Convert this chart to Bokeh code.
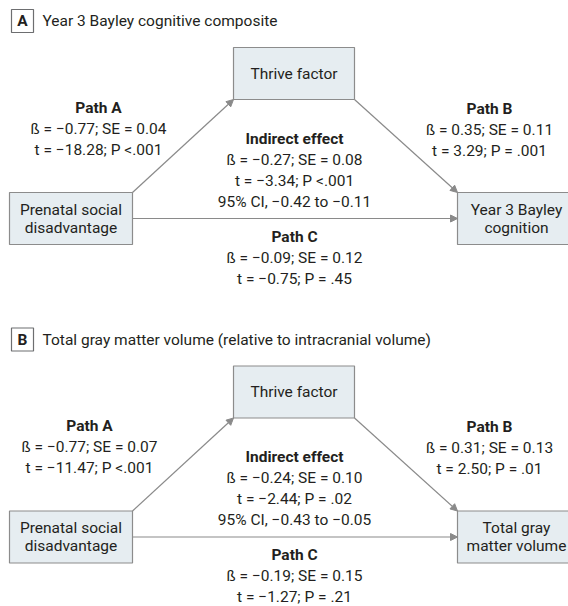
from bokeh.plotting import figure
from bokeh.models import Range1d, ColumnDataSource, Arrow, NormalHead
from bokeh.core.properties import value
from bokeh.embed import file_html
from bokeh.resources import INLINE

# ---------------- data ----------------
panel_letters = ["A", "B"]
panel_titles = ["Year 3 Bayley cognitive composite",
                "Total gray matter volume (relative to intracranial volume)"]
exposure_label = ["Prenatal social", "disadvantage"]
mediator_label = "Thrive factor"
outcome_labels = [["Year 3 Bayley", "cognition"], ["Total gray", "matter volume"]]

path_a_beta = [-0.77, -0.77]
path_a_se = [0.04, 0.07]
path_a_t = [-18.28, -11.47]
path_a_p = ["<.001", "<.001"]

path_b_beta = [0.35, 0.31]
path_b_se = [0.11, 0.13]
path_b_t = [3.29, 2.50]
path_b_p = [".001", ".01"]

indirect_beta = [-0.27, -0.24]
indirect_se = [0.08, 0.10]
indirect_t = [-3.34, -2.44]
indirect_p = ["<.001", ".02"]
indirect_ci_low = [-0.42, -0.43]
indirect_ci_high = [-0.11, -0.05]

path_c_beta = [-0.09, -0.19]
path_c_se = [0.12, 0.15]
path_c_t = [-0.75, -1.27]
path_c_p = [".45", ".21"]

# ---------------- helpers ----------------
def fnum(v):
    s = f"{abs(v):.2f}"
    return ("\u2212" if v < 0 else "") + s

def fp(pv):
    return f"P {pv}" if pv.startswith("<") else f"P = {pv}"

def beta_line(b, se):
    return f"ß = {fnum(b)}; SE = {fnum(se)}"

def t_line(t, pv):
    return f"t = {fnum(t)}; {fp(pv)}"

FONT = value("Roboto")
FS = "15.5px"
TXT = "#231f20"
LINE = "#8a8a8a"
BOX_FILL = "#e6edf1"
BOX_LINE = "#8c8c8c"

p = figure(width=568, height=606, x_range=Range1d(0, 568), y_range=Range1d(606, 0),
           output_backend="svg", toolbar_location=None, min_border=0)
p.axis.visible = False
p.grid.visible = False
p.outline_line_color = None
p.background_fill_color = "white"
p.border_fill_color = "white"

offsets = [0, 318.5]
path_a_x = [98, 89]

reg = dict(x=[], y=[], text=[])
bold = dict(x=[], y=[], text=[])
boxes = dict(left=[], right=[], top=[], bottom=[])
lbl = dict(left=[], right=[], top=[], bottom=[])
arrows = dict(x0=[], y0=[], x1=[], y1=[])

def add(d, x, y, t):
    d["x"].append(x); d["y"].append(y); d["text"].append(t)

for i in range(2):
    o = offsets[i]
    # panel label & title
    lbl["left"].append(11); lbl["right"].append(33)
    lbl["top"].append(9 + o); lbl["bottom"].append(32 + o)
    add(bold, 22, 20.5 + o, panel_letters[i])
    # boxes
    for (l, r, t, b) in [(233, 354, 47, 99), (9, 132, 192, 244), (457, 580, 192, 244)]:
        boxes["left"].append(l); boxes["right"].append(r)
        boxes["top"].append(t + o); boxes["bottom"].append(b + o)
    # arrows
    for (x0, y0, x1, y1) in [(132, 192, 233, 99), (354, 99, 457, 192), (132, 218, 457, 218)]:
        arrows["x0"].append(x0); arrows["y0"].append(y0 + o)
        arrows["x1"].append(x1); arrows["y1"].append(y1 + o)
    # box texts
    add(reg, 293.5, 73 + o, mediator_label)
    add(reg, 70.5, 209 + o, exposure_label[0])
    add(reg, 70.5, 227 + o, exposure_label[1])
    add(reg, 516, 209 + o, outcome_labels[i][0])
    add(reg, 516, 227 + o, outcome_labels[i][1])
    # Path A
    add(bold, path_a_x[i], 107 + o, "Path A")
    add(reg, path_a_x[i], 128 + o, beta_line(path_a_beta[i], path_a_se[i]))
    add(reg, path_a_x[i], 149 + o, t_line(path_a_t[i], path_a_p[i]))
    # Path B
    add(bold, 489, 108 + o, "Path B")
    add(reg, 489, 129 + o, beta_line(path_b_beta[i], path_b_se[i]))
    add(reg, 489, 150 + o, t_line(path_b_t[i], path_b_p[i]))
    # Indirect
    add(bold, 294, 138 + o, "Indirect effect")
    add(reg, 294, 159 + o, beta_line(indirect_beta[i], indirect_se[i]))
    add(reg, 294, 180 + o, t_line(indirect_t[i], indirect_p[i]))
    add(reg, 294, 201 + o, f"95% CI, {fnum(indirect_ci_low[i])} to {fnum(indirect_ci_high[i])}")
    # Path C
    add(bold, 294, 236 + o, "Path C")
    add(reg, 294, 257 + o, beta_line(path_c_beta[i], path_c_se[i]))
    add(reg, 294, 278 + o, t_line(path_c_t[i], path_c_p[i]))

# titles
title_src = ColumnDataSource(dict(x=[42, 42], y=[20.5, 20.5 + offsets[1]], text=panel_titles))

p.quad(source=ColumnDataSource(boxes), left="left", right="right", top="top", bottom="bottom",
       fill_color=BOX_FILL, line_color=BOX_LINE, line_width=1.2)
p.quad(source=ColumnDataSource(lbl), left="left", right="right", top="top", bottom="bottom",
       fill_color="white", line_color="#6d6e70", line_width=1.2)

asrc = ColumnDataSource(arrows)
p.add_layout(Arrow(source=asrc, x_start="x0", y_start="y0", x_end="x1", y_end="y1",
                   line_color=LINE, line_width=1.2,
                   end=NormalHead(size=7, fill_color=LINE, line_color=LINE, line_width=1)))

p.text(source=ColumnDataSource(reg), x="x", y="y", text="text", text_align="center",
       text_baseline="middle", text_font=FONT, text_font_size=FS, text_color=TXT)
p.text(source=ColumnDataSource(bold), x="x", y="y", text="text", text_align="center",
       text_baseline="middle", text_font=FONT, text_font_size=FS, text_font_style="bold",
       text_color=TXT)
p.text(source=title_src, x="x", y="y", text="text", text_align="left",
       text_baseline="middle", text_font=FONT, text_font_size=FS, text_color=TXT)

open("out.html", "w").write(file_html(p, INLINE))
